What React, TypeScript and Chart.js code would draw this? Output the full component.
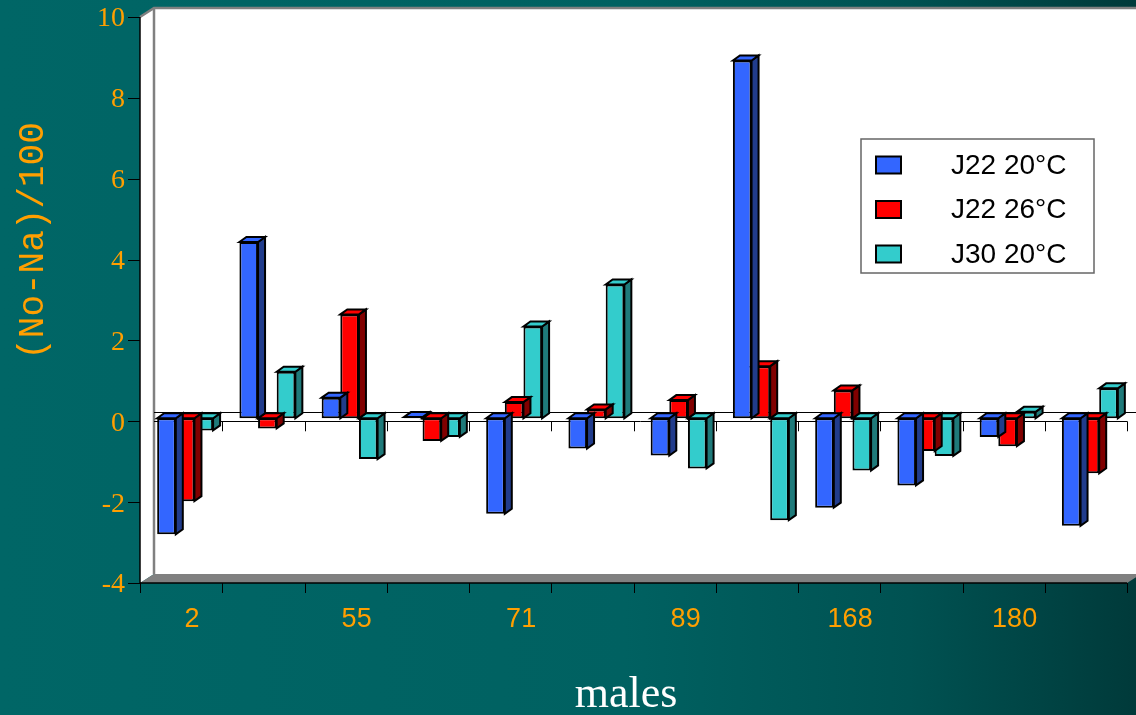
import React, { useEffect, useRef } from 'react';
import { Chart, registerables } from 'chart.js';

Chart.register(...registerables);

// ---- data ----
const categories = ['2', '', '55', '', '71', '', '89', '', '168', '', '180', ''];
const seriesNames = ['J22 20°C', 'J22 26°C', 'J30 20°C'];
const j22at20 = [-2.87, 4.36, 0.51, 0.03, -2.36, -0.75, -0.92, 8.85, -2.21, -1.66, -0.46, -2.66];
const j22at26 = [-2.05, -0.25, 2.57, -0.56, 0.4, 0.22, 0.45, 1.29, 0.69, -0.81, -0.69, -1.36];
const j30at20 = [-0.3, 1.15, -1.01, -0.46, 2.27, 3.31, -1.24, -2.52, -1.29, -0.93, 0.16, 0.74];
const yTicks = [-4, -2, 0, 2, 4, 6, 8, 10];
const xTitle = 'males';
const yTitle = '(No-Na)/100';

// ---- styles ----
const ORANGE = '#FF9F00';
const frontColors = ['#3366FF', '#FF0000', '#33CCCC'];
const sideColors = ['#213C8C', '#800000', '#1F7A7A'];
const FRONT = { x: -4, y: 3 };
const BACK = { x: 10, y: -6 };
const DEPTH = { x: 7, y: -5 };

const bgPlugin = {
  id: 'bg3d',
  beforeDraw(chart: any) {
    const { ctx, width, height } = chart;
    ctx.save();
    const g = ctx.createLinearGradient(0, 0, width, 0);
    g.addColorStop(0, '#006666');
    g.addColorStop(0.55, '#006161');
    g.addColorStop(0.8, '#005252');
    g.addColorStop(1, '#003a3a');
    ctx.fillStyle = g;
    ctx.fillRect(0, 0, width, height);
    ctx.restore();
  },
  beforeDatasetsDraw(chart: any) {
    const { ctx, chartArea: ca, width } = chart;
    const ys = chart.scales.y;
    const xs = chart.scales.x;
    const yTop = ys.getPixelForValue(ys.max);
    const yBot = ys.getPixelForValue(ys.min);
    const y0 = ys.getPixelForValue(0);
    const xL = ca.left;
    const xR = ca.right;
    const n = categories.length;
    ctx.save();
    // back wall
    ctx.fillStyle = '#FFFFFF';
    ctx.fillRect(xL + BACK.x, yTop + BACK.y, width - (xL + BACK.x), yBot - yTop);
    // left side wall
    ctx.beginPath();
    ctx.moveTo(xL + FRONT.x, yTop + FRONT.y);
    ctx.lineTo(xL + BACK.x, yTop + BACK.y);
    ctx.lineTo(xL + BACK.x, yBot + BACK.y);
    ctx.lineTo(xL + FRONT.x, yBot + FRONT.y);
    ctx.closePath();
    ctx.fill();
    // floor
    ctx.fillStyle = '#808080';
    ctx.beginPath();
    ctx.moveTo(xL + FRONT.x, yBot + FRONT.y);
    ctx.lineTo(xL + BACK.x, yBot + BACK.y);
    ctx.lineTo(xR + BACK.x, yBot + BACK.y);
    ctx.lineTo(xR + FRONT.x, yBot + FRONT.y);
    ctx.closePath();
    ctx.fill();
    // grey wall edges
    ctx.strokeStyle = '#808080';
    ctx.lineWidth = 2.5;
    ctx.beginPath();
    ctx.moveTo(xL + FRONT.x, yTop + FRONT.y);
    ctx.lineTo(xL + BACK.x, yTop + BACK.y);
    ctx.lineTo(width, yTop + BACK.y);
    ctx.moveTo(xL + BACK.x, yTop + BACK.y);
    ctx.lineTo(xL + BACK.x, yBot + BACK.y);
    ctx.stroke();
    // zero lines
    ctx.strokeStyle = '#000000';
    ctx.lineWidth = 1;
    ctx.beginPath();
    ctx.moveTo(xL + BACK.x, Math.round(y0 + BACK.y) + 0.5);
    ctx.lineTo(width, Math.round(y0 + BACK.y) + 0.5);
    ctx.moveTo(xL + BACK.x, Math.round(y0 + FRONT.y) + 0.5);
    ctx.lineTo(xR + FRONT.x, Math.round(y0 + FRONT.y) + 0.5);
    for (let k = 1; k <= n; k++) {
      const bx = Math.round(xs.getPixelForValue(k - 0.5) + FRONT.x) + 0.5;
      ctx.moveTo(bx, y0 + FRONT.y);
      ctx.lineTo(bx, y0 + FRONT.y + 10);
    }
    ctx.stroke();
    // floor front edge and category ticks
    ctx.lineWidth = 1.5;
    ctx.beginPath();
    ctx.moveTo(xL + FRONT.x, yBot + FRONT.y);
    ctx.lineTo(xR + FRONT.x, yBot + FRONT.y);
    ctx.stroke();
    ctx.lineWidth = 1;
    ctx.beginPath();
    for (let k = 0; k <= n; k++) {
      const bx = Math.round(xs.getPixelForValue(k - 0.5) + FRONT.x) + 0.5;
      ctx.moveTo(bx, yBot + FRONT.y);
      ctx.lineTo(bx, yBot + FRONT.y + 10);
    }
    ctx.stroke();
    // value axis
    ctx.lineWidth = 1.5;
    ctx.beginPath();
    ctx.moveTo(xL + FRONT.x, yTop + FRONT.y);
    ctx.lineTo(xL + FRONT.x, yBot + FRONT.y);
    ctx.stroke();
    ctx.lineWidth = 1;
    ctx.beginPath();
    yTicks.forEach((v) => {
      const py = Math.round(ys.getPixelForValue(v) + FRONT.y) + 0.5;
      ctx.moveTo(xL + FRONT.x - 12, py);
      ctx.lineTo(xL + FRONT.x, py);
    });
    ctx.stroke();
    ctx.restore();
  },
  beforeDatasetDraw(chart: any, args: any) {
    const { ctx } = chart;
    const i = args.index;
    const meta = chart.getDatasetMeta(i);
    ctx.save();
    ctx.lineWidth = 2;
    ctx.lineJoin = 'miter';
    ctx.strokeStyle = '#000000';
    meta.data.forEach((bar: any) => {
      const { x, y, base, width } = bar.getProps(['x', 'y', 'base', 'width'], true);
      const L = x - width / 2;
      const R = x + width / 2;
      const T = Math.min(y, base);
      const B = Math.max(y, base);
      // side face
      ctx.fillStyle = sideColors[i];
      ctx.beginPath();
      ctx.moveTo(R, T);
      ctx.lineTo(R + DEPTH.x, T + DEPTH.y);
      ctx.lineTo(R + DEPTH.x, B + DEPTH.y);
      ctx.lineTo(R, B);
      ctx.closePath();
      ctx.fill();
      ctx.stroke();
      // top face
      ctx.fillStyle = frontColors[i];
      ctx.beginPath();
      ctx.moveTo(L, T);
      ctx.lineTo(L + DEPTH.x, T + DEPTH.y);
      ctx.lineTo(R + DEPTH.x, T + DEPTH.y);
      ctx.lineTo(R, T);
      ctx.closePath();
      ctx.fill();
      ctx.stroke();
    });
    ctx.restore();
  },
  afterDraw(chart: any) {
    const { ctx, chartArea: ca } = chart;
    ctx.save();
    // legend
    const bx = ca.right - 270;
    const by = ca.top + 125;
    const bw = 233;
    const bh = 134;
    ctx.fillStyle = '#FFFFFF';
    ctx.fillRect(bx, by, bw, bh);
    ctx.strokeStyle = '#666666';
    ctx.lineWidth = 1.5;
    ctx.strokeRect(bx, by, bw, bh);
    ctx.font = '28px "Liberation Sans", Arial, sans-serif';
    ctx.textBaseline = 'middle';
    ctx.textAlign = 'left';
    chart.data.datasets.forEach((ds: any, i: number) => {
      const cy = by + 26 + i * 44.5;
      ctx.fillStyle = ds.backgroundColor;
      ctx.fillRect(bx + 15, cy - 8.5, 25, 17);
      ctx.strokeStyle = '#000000';
      ctx.lineWidth = 2;
      ctx.strokeRect(bx + 15, cy - 8.5, 25, 17);
      ctx.fillStyle = '#000000';
      ctx.fillText(ds.label, bx + 90, cy + 1);
    });
    // axis titles
    ctx.fillStyle = '#FFFFFF';
    ctx.font = '44px "Liberation Serif", "Times New Roman", serif';
    ctx.textAlign = 'center';
    ctx.textBaseline = 'alphabetic';
    ctx.fillText(xTitle, 626, 707);
    ctx.translate(31, 241);
    ctx.rotate(-Math.PI / 2);
    ctx.fillStyle = ORANGE;
    ctx.font = '36px "Courier New", "Liberation Mono", "Nimbus Mono PS", "FreeMono", monospace';
    ctx.textBaseline = 'middle';
    ctx.fillText(yTitle, 0, 2);
    ctx.restore();
  },
};

export default function App() {
  const ref = useRef<HTMLCanvasElement | null>(null);
  useEffect(() => {
    if (!ref.current) return;
    const seriesValues = [j22at20, j22at26, j30at20];
    const chart = new Chart(ref.current, {
      type: 'bar',
      data: {
        labels: categories,
        datasets: seriesNames.map((name, i) => ({
          label: name,
          data: seriesValues[i],
          backgroundColor: frontColors[i],
          borderColor: '#000000',
          borderWidth: 2,
          borderSkipped: false,
          categoryPercentage: 0.68,
          barPercentage: 1,
        })),
      },
      options: {
        responsive: false,
        animation: false,
        devicePixelRatio: 1,
        layout: { padding: { left: 0, right: 5, top: 14, bottom: 0 } },
        plugins: { legend: { display: false }, tooltip: { enabled: false }, title: { display: false } },
        scales: {
          x: {
            grid: { display: false, drawTicks: false },
            border: { display: false },
            ticks: {
              color: ORANGE,
              font: { family: '"Liberation Sans", Arial, sans-serif', size: 27 },
              padding: 23,
              labelOffset: 7,
              autoSkip: false,
              maxRotation: 0,
              minRotation: 0,
            },
            afterFit: (s: any) => {
              s.height = 135;
              s.paddingLeft = 0;
              s.paddingRight = 0;
            },
          },
          y: {
            min: -4,
            max: 10,
            afterBuildTicks: (s: any) => {
              s.ticks = yTicks.map((v) => ({ value: v }));
            },
            grid: { display: false, drawTicks: false },
            border: { display: false },
            ticks: {
              color: ORANGE,
              font: { family: '"Liberation Serif", "Times New Roman", serif', size: 28 },
              padding: 19,
              labelOffset: 5,
            },
            afterFit: (s: any) => {
              s.width = 144;
              s.paddingTop = 0;
              s.paddingBottom = 0;
            },
          },
        },
      },
      plugins: [bgPlugin],
    } as any);
    return () => chart.destroy();
  }, []);
  return (
    <div style={{ position: 'absolute', left: 0, top: 0, width: 1136, height: 715 }}>
      <canvas ref={ref} width={1136} height={715} style={{ display: 'block' }} />
    </div>
  );
}
